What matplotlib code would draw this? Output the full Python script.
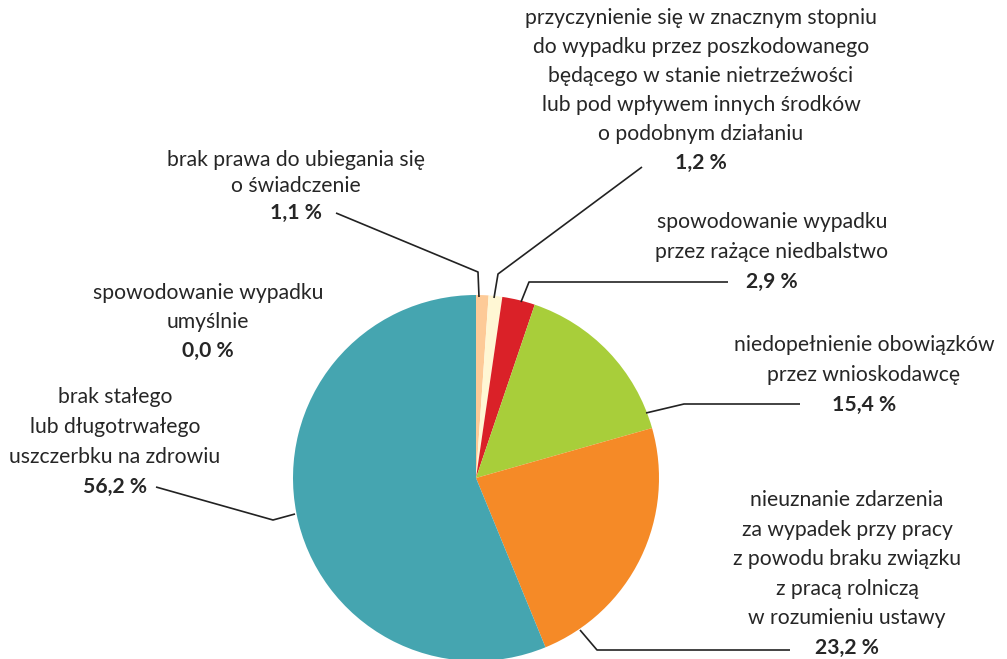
import matplotlib.pyplot as plt

# slice data, clockwise from 12 o'clock
shares = [1.1, 1.2, 2.9, 15.4, 23.2, 56.2, 0.0]
labels = [
    "brak prawa do ubiegania się\no świadczenie",
    "przyczynienie się w znacznym stopniu\ndo wypadku przez poszkodowanego\nbędącego w stanie nietrzeźwości\nlub pod wpływem innych środków\no podobnym działaniu",
    "spowodowanie wypadku\nprzez rażące niedbalstwo",
    "niedopełnienie obowiązków\nprzez wnioskodawcę",
    "nieuznanie zdarzenia\nza wypadek przy pracy\nz powodu braku związku\nz pracą rolniczą\nw rozumieniu ustawy",
    "brak stałego\nlub długotrwałego\nuszczerbku na zdrowiu",
    "spowodowanie wypadku\numyślnie",
]
colors = ["#FDCA97", "#FFF7D4", "#DA2128", "#A8CE3A", "#F58A27", "#45A5B0", "#45A5B0"]

W, H = 1007, 659
plt.rcParams['font.family'] = ['Lato', 'DejaVu Sans']
TXT = "#262626"

fig = plt.figure(figsize=(W / 100, H / 100), dpi=100)
ax = fig.add_axes([0, 0, 1, 1])

def Y(p):
    return H - p

cx, cy, r = 476, 478, 183
ax.pie([s if s > 0 else 1e-9 for s in shares], colors=colors, startangle=90,
       counterclock=False, center=(cx, Y(cy)), radius=r, frame=True,
       wedgeprops=dict(linewidth=0))
ax.set_xlim(0, W)
ax.set_ylim(0, H)
ax.set_aspect('equal')
ax.axis('off')

# label blocks: (center x, y of first line, line spacing)
blocks = [
    (296, 160, 26.5),
    (701, 18, 29),
    (772, 222, 30),
    (864, 345, 30),
    (847, 500, 29.6),
    (115, 397, 30),
    (208, 293, 29),
]
for (x, y0, dy), lab, s in zip(blocks, labels, shares):
    lines = lab.split("\n")
    for i, ln in enumerate(lines):
        ax.text(x, Y(y0 + i * dy), ln, ha='center', va='center',
                fontsize=15.2, color=TXT)
    pct = f"{s:.1f}".replace(".", ",") + " %"
    ax.text(x, Y(y0 + len(lines) * dy), pct, ha='center', va='center',
            fontsize=15.2, fontweight='bold', color=TXT)

# leader lines
leaders = [
    [(336, 213), (478, 272), (479, 297)],
    [(642, 167), (498, 274), (494, 298)],
    [(728, 282), (529, 282), (521, 302)],
    [(800, 404), (684, 404), (646, 413)],
    [(790, 650), (597, 650), (580, 630)],
    [(156, 487), (273, 520), (295, 514)],
]
for pts in leaders:
    xs = [p[0] for p in pts]
    ys = [Y(p[1]) for p in pts]
    ax.plot(xs, ys, color="#222222", lw=1.2, solid_capstyle='butt')

fig.savefig("out.png", dpi=100)
